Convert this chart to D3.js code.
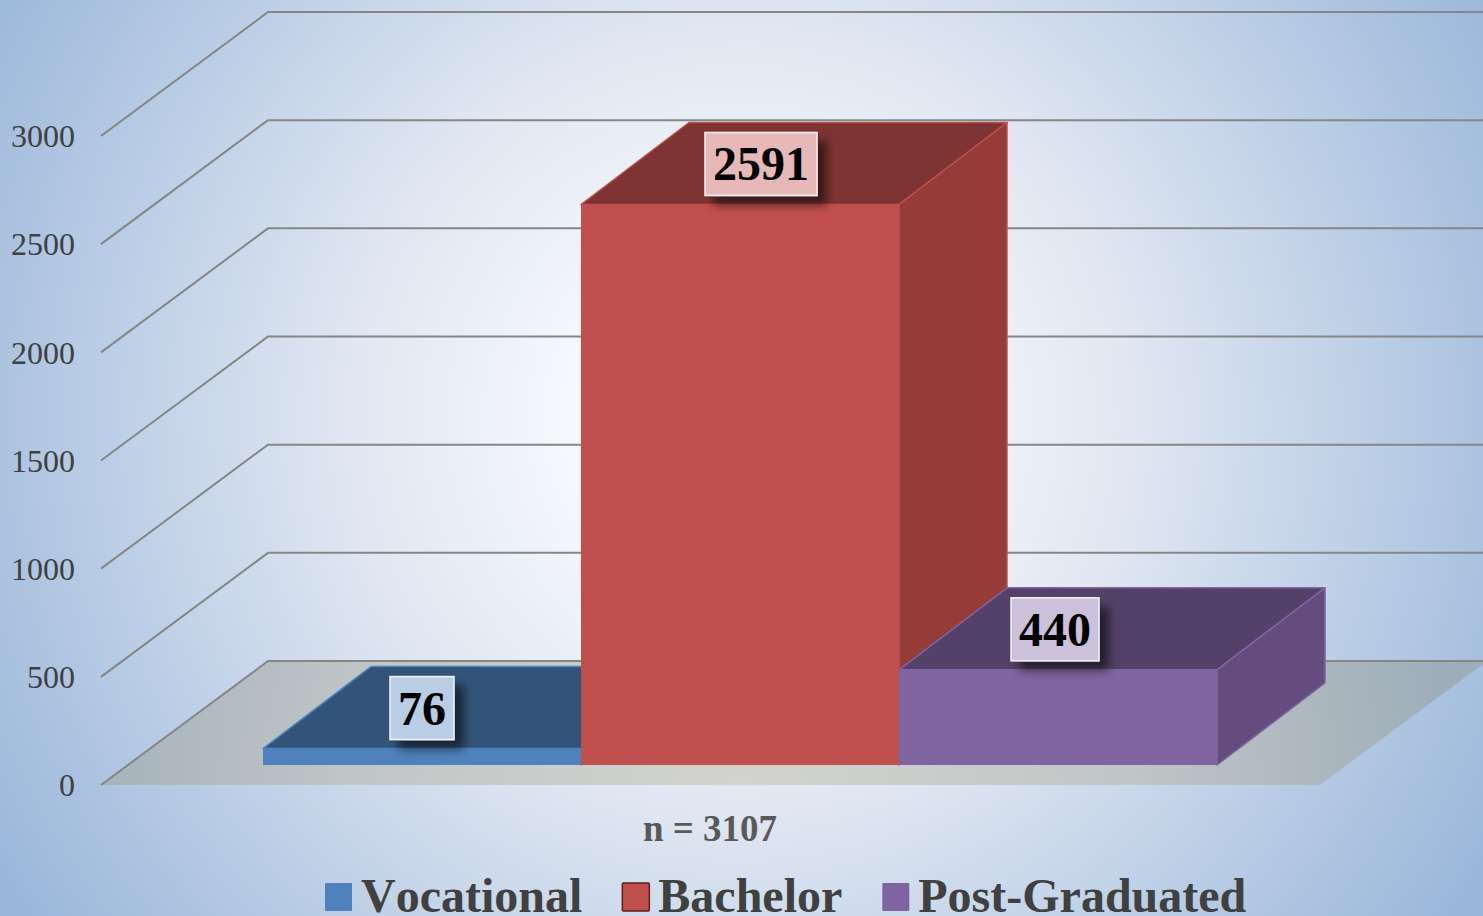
<!DOCTYPE html>
<html>
<head>
<meta charset="utf-8">
<script src="https://d3js.org/d3.v7.min.js"></script>
<style>
  html, body { margin: 0; padding: 0; background: #fff; }
  svg { display: block; font-family: "Liberation Serif", serif; }
</style>
</head>
<body>
<svg width="1483" height="916"></svg>
<script>
var categories = ['Vocational', 'Bachelor', 'Post-Graduated'];
var values = [76, 2591, 440];
var tickValues = [0, 500, 1000, 1500, 2000, 2500, 3000];
var noteText = 'n = 3107';

var frontColors = ['#4f81bd', '#c0504d', '#8064a2'];
var topColors = ['#335479', '#7e3432', '#544169'];
var sideColors = ['#3b6291', '#953c39', '#644c7f'];
var labelFills = ['#b9cde5', '#e6b9b8', '#ccc1da'];
var labelShift = [0, 21, -3];

var svg = d3.select('svg');
var width = 1483, height = 916;

// wall depth and bar depth
var wallDx = 167, wallDy = -124;
var barDx = 108, barDy = -82;
var barBase = 765;

var y = d3.scaleLinear().domain([0, 3000]).range([785, 136]);
var x = d3.scaleBand().domain(categories).range([263, 1217]);

var defs = svg.append('defs');

var bg = defs.append('radialGradient').attr('id', 'bg')
    .attr('gradientUnits', 'userSpaceOnUse')
    .attr('cx', 740).attr('cy', 420).attr('r', 870);
bg.append('stop').attr('offset', '0%').attr('stop-color', '#ffffff');
bg.append('stop').attr('offset', '20%').attr('stop-color', '#f5f8fc');
bg.append('stop').attr('offset', '45%').attr('stop-color', '#e0e7f2');
bg.append('stop').attr('offset', '82%').attr('stop-color', '#b0c6e2');
bg.append('stop').attr('offset', '100%').attr('stop-color', '#9ab7da');

var floorFill = defs.append('radialGradient').attr('id', 'floorFill')
    .attr('gradientUnits', 'userSpaceOnUse')
    .attr('cx', 740).attr('cy', 800).attr('r', 720);
floorFill.append('stop').attr('offset', '0%').attr('stop-color', '#d3d4cf');
floorFill.append('stop').attr('offset', '55%').attr('stop-color', '#c0c5c6');
floorFill.append('stop').attr('offset', '100%').attr('stop-color', '#9dadb9');

var shadow = defs.append('filter').attr('id', 'labelShadow')
    .attr('x', '-30%').attr('y', '-30%').attr('width', '170%').attr('height', '170%');
shadow.append('feDropShadow')
    .attr('dx', 9).attr('dy', 9).attr('stdDeviation', 5)
    .attr('flood-color', '#000').attr('flood-opacity', 0.55);

svg.append('rect').attr('width', width).attr('height', height).attr('fill', 'url(#bg)');

// floor
svg.append('path')
    .attr('d', 'M101,' + y(0) + 'L1320,' + y(0) + 'L' + (1320 + wallDx) + ',' + (y(0) + wallDy) +
        'L' + (101 + wallDx) + ',' + (y(0) + wallDy) + 'Z')
    .attr('fill', 'url(#floorFill)');

// grid lines, side wall then back wall
svg.append('g').selectAll('path')
    .data(tickValues)
    .enter().append('path')
    .attr('d', function(d) {
      return 'M101,' + y(d) + 'L' + (101 + wallDx) + ',' + (y(d) + wallDy) + 'L1490,' + (y(d) + wallDy);
    })
    .attr('fill', 'none')
    .attr('stroke', '#868686')
    .attr('stroke-width', 2);

// y axis, labels only
var axis = svg.append('g')
    .attr('transform', 'translate(75,0.5)')
    .call(d3.axisLeft(y).tickValues(tickValues).tickSize(0).tickPadding(0).tickFormat(d3.format('d')));
axis.select('.domain').remove();
axis.selectAll('text')
    .attr('font-family', '"Liberation Serif", serif')
    .attr('font-size', 32)
    .attr('fill', '#404040');

// bars
var bars = svg.append('g').selectAll('g')
    .data(values)
    .enter().append('g');

function barHeight(v) { return y(0) - y(v); }

bars.append('path')
    .attr('d', function(d, i) {
      var x0 = x(categories[i]), x1 = x0 + x.bandwidth(), t = barBase - barHeight(d);
      return 'M' + x0 + ',' + t + 'L' + x1 + ',' + t + 'L' + (x1 + barDx) + ',' + (t + barDy) +
        'L' + (x0 + barDx) + ',' + (t + barDy) + 'Z';
    })
    .attr('fill', function(d, i) { return topColors[i]; })
    .attr('stroke', function(d, i) { return frontColors[i]; })
    .attr('stroke-width', 1.5)
    .attr('stroke-linejoin', 'round');

bars.append('path')
    .attr('d', function(d, i) {
      var x1 = x(categories[i]) + x.bandwidth(), t = barBase - barHeight(d);
      return 'M' + x1 + ',' + t + 'L' + (x1 + barDx) + ',' + (t + barDy) +
        'L' + (x1 + barDx) + ',' + (barBase + barDy) + 'L' + x1 + ',' + barBase + 'Z';
    })
    .attr('fill', function(d, i) { return sideColors[i]; })
    .attr('stroke', function(d, i) { return frontColors[i]; })
    .attr('stroke-width', 1.5)
    .attr('stroke-linejoin', 'round');

bars.append('rect')
    .attr('x', function(d, i) { return x(categories[i]); })
    .attr('y', function(d) { return barBase - barHeight(d); })
    .attr('width', x.bandwidth())
    .attr('height', function(d) { return barHeight(d); })
    .attr('fill', function(d, i) { return frontColors[i]; });

// value labels
var labels = svg.append('g').selectAll('g')
    .data(values)
    .enter().append('g')
    .attr('transform', function(d, i) {
      var cx = x(categories[i]) + x.bandwidth() / 2 + labelShift[i];
      return 'translate(' + cx + ',' + (barBase - barHeight(d) - 40) + ')';
    });

labels.append('text')
    .attr('text-anchor', 'middle')
    .attr('y', 16)
    .attr('font-size', 48)
    .attr('font-weight', 'bold')
    .attr('fill', '#000')
    .text(function(d) { return d; })
    .each(function(d, i) {
      var w = this.getComputedTextLength() + 16;
      d3.select(this.parentNode).insert('rect', 'text')
        .attr('x', -w / 2)
        .attr('y', -32)
        .attr('width', w)
        .attr('height', 63)
        .attr('fill', labelFills[i])
        .attr('stroke', '#f2f5f9')
        .attr('stroke-width', 1.5)
        .attr('filter', 'url(#labelShadow)');
    });

// n note
svg.append('text')
    .attr('x', 710)
    .attr('y', 841)
    .attr('text-anchor', 'middle')
    .attr('font-size', 37)
    .attr('font-weight', 'bold')
    .attr('fill', '#595959')
    .text(noteText);

// legend
var legendX = 325;
categories.forEach(function(c, i) {
  svg.append('rect')
    .attr('x', legendX).attr('y', 883)
    .attr('width', 27).attr('height', 28)
    .attr('rx', 1)
    .attr('fill', frontColors[i])
    .attr('stroke', i == 1 ? '#5e1f1d' : 'none')
    .attr('stroke-width', 1.5);
  var t = svg.append('text')
    .attr('x', legendX + 36)
    .attr('y', 912)
    .attr('font-size', 48)
    .attr('font-weight', 'bold')
    .attr('fill', '#404040')
    .style('font-kerning', 'none')
    .text(c);
  legendX += 36 + t.node().getComputedTextLength() + 40;
});
</script>
</body>
</html>
